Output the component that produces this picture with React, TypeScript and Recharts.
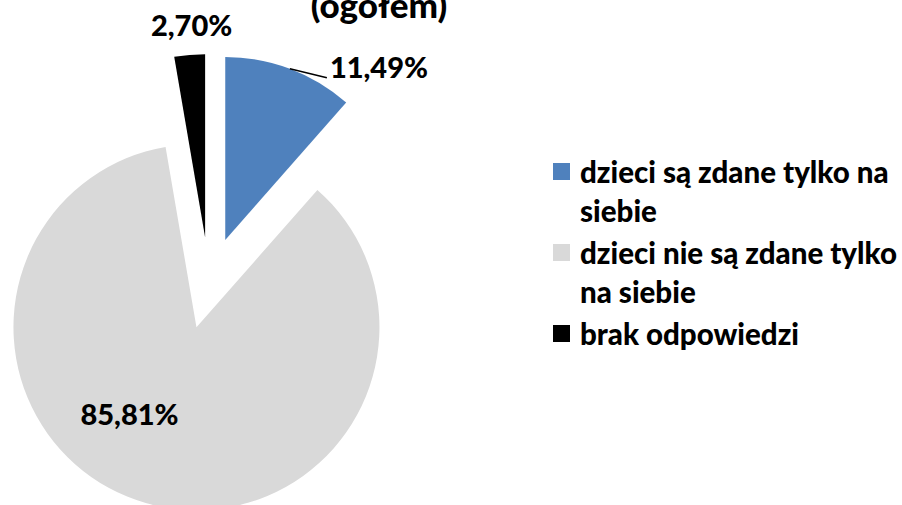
import { Cell, Legend, Pie, PieChart } from "recharts";

const categories = [
  "dzieci są zdane tylko na siebie",
  "dzieci nie są zdane tylko na siebie",
  "brak odpowiedzi"
];
const shares = [11.49, 85.81, 2.7];
const shareLabels = ["11,49%", "85,81%", "2,70%"];
const colors = ["#4F81BD", "#D9D9D9", "#000000"];
const title = "(ogółem)";

const data = categories.map((name, i) => ({ name, value: shares[i] }));

const W = 902;
const H = 505;
const CX = 209;
const CY = 283;
const R = 183;
const EXPLODE = 46;
const FONT = "Lato, 'Open Sans', sans-serif";
const RAD = Math.PI / 180;

// offset of each exploded slice, along its own mid angle (clockwise from 12 o'clock)
const total = shares.reduce((a, b) => a + b, 0);
const offsets = shares.map((v, i) => {
  const before = shares.slice(0, i).reduce((a, b) => a + b, 0);
  const a = ((before + v / 2) / total) * 2 * Math.PI;
  return { dx: Math.sin(a) * EXPLODE, dy: -Math.cos(a) * EXPLODE };
});

function makeLabel(k: number) {
  return (props: any) => {
    const { cx, cy, midAngle, outerRadius, index } = props;
    if (index !== k) return null;
    const ex = cx + Math.cos(-midAngle * RAD) * outerRadius;
    const ey = cy + Math.sin(-midAngle * RAD) * outerRadius;
    const style = { fontFamily: FONT, fontWeight: 900, fontSize: 29, fill: "#000" };
    if (k === 0) {
      return (
        <g>
          <path d={`M${ex},${ey}L${ex + 37},${ey + 9}`} stroke="#000" strokeWidth={1.5} fill="none" />
          <text x={ex + 40} y={ey + 9} textAnchor="start" style={style}>
            {shareLabels[k]}
          </text>
        </g>
      );
    }
    if (k === 2) {
      return (
        <text x={ex + 2} y={ey - 19} textAnchor="middle" style={style}>
          {shareLabels[k]}
        </text>
      );
    }
    return (
      <text x={cx - 67} y={cy + 98} textAnchor="middle" style={style}>
        {shareLabels[k]}
      </text>
    );
  };
}

function LegendBox() {
  return (
    <div style={{ fontFamily: FONT, fontWeight: 900, fontSize: 29.5, lineHeight: "39px", color: "#000" }}>
      {categories.map((name, i) => (
        <div key={name} style={{ display: "flex", alignItems: "flex-start", marginBottom: 3 }}>
          <div style={{ width: 17, height: 17, background: colors[i], marginTop: 11, flex: "none" }} />
          <div style={{ marginLeft: 10, width: 322 }}>{name}</div>
        </div>
      ))}
    </div>
  );
}

export default function App() {
  return (
    <div style={{ position: "absolute", left: 0, top: 0, width: W, height: H, background: "#fff" }}>
      <PieChart width={W} height={H} margin={{ top: 0, right: 0, bottom: 0, left: 0 }}>
        <text x={379} y={18} textAnchor="middle" style={{ fontFamily: FONT, fontWeight: 900, fontSize: 35 }}>
          {title}
        </text>
        {shares.map((_, k) => (
          <Pie
            key={k}
            data={data}
            dataKey="value"
            nameKey="name"
            cx={CX + offsets[k].dx}
            cy={CY + offsets[k].dy}
            outerRadius={R}
            startAngle={90}
            endAngle={-270}
            stroke="none"
            isAnimationActive={false}
            label={makeLabel(k)}
            labelLine={false}
          >
            {data.map((d, i) => (
              <Cell key={d.name} fill={i === k ? colors[i] : "transparent"} stroke="none" />
            ))}
          </Pie>
        ))}
        <Legend
          content={() => <LegendBox />}
          wrapperStyle={{ position: "absolute", left: 553, top: 152, width: 349 }}
        />
      </PieChart>
    </div>
  );
}
